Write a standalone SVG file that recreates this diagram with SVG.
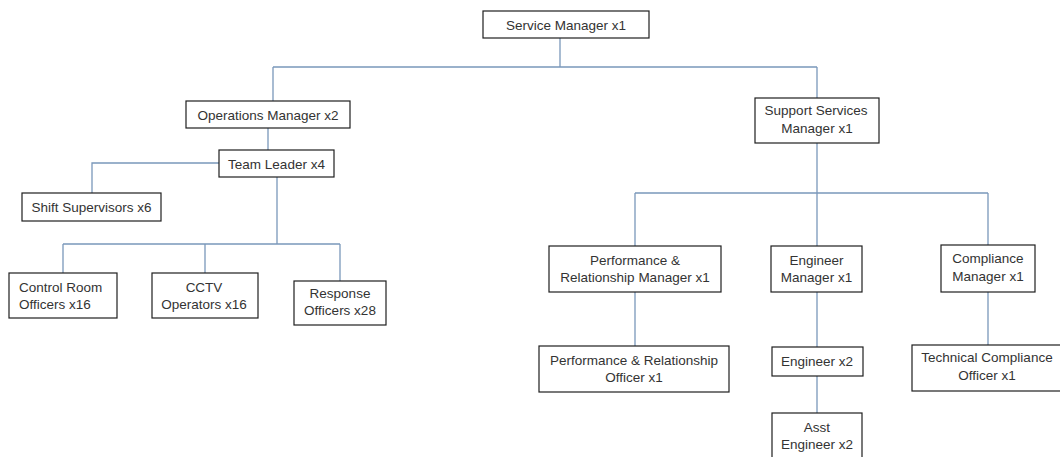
<svg xmlns="http://www.w3.org/2000/svg" width="1060" height="457" viewBox="0 0 1060 457">
<style>
.box{fill:#fff;stroke:#1e1e1e;stroke-width:1.2}
.t{font-family:"Liberation Sans",Arial,sans-serif;font-size:13.5px;fill:#333;text-anchor:middle}
.l{text-anchor:start}
.c{fill:none;stroke:#7a98ba;stroke-width:1.3}
</style>
<rect width="1060" height="457" fill="#fff"/>
<g id="connectors">
<path class="c" d="M560,38V67M273,67H817M273,67V101M817,67V98"/>
<path class="c" d="M268,128V150M219,163H92V193M277,177V244M63,244H340M63,244V273M205,244V273M340,244V281"/>
<path class="c" d="M817,143V193M635,193H988M635,193V246M817,193V246M988,193V245"/>
<path class="c" d="M635,292V346M817,292V347M817,376V413M988,292V345"/>
</g>
<g id="service-manager"><rect class="box" x="483" y="11" width="166" height="27"/><text class="t" x="566" y="30">Service Manager x1</text></g>
<g id="operations-manager"><rect class="box" x="186" y="101" width="164" height="27"/><text class="t" x="268" y="120">Operations Manager x2</text></g>
<g id="team-leader"><rect class="box" x="219" y="150" width="115" height="27"/><text class="t" x="276.5" y="169">Team Leader x4</text></g>
<g id="shift-supervisors"><rect class="box" x="22" y="193" width="139" height="28"/><text class="t" x="91.5" y="212">Shift Supervisors x6</text></g>
<g id="control-room"><rect class="box" x="9" y="273" width="108" height="45"/><text class="t l" x="19" y="292">Control Room</text><text class="t l" x="19" y="309">Officers x16</text></g>
<g id="cctv"><rect class="box" x="152" y="273" width="106" height="45"/><text class="t" x="204" y="292">CCTV</text><text class="t" x="204" y="309">Operators x16</text></g>
<g id="response"><rect class="box" x="294" y="281" width="92" height="44"/><text class="t" x="340" y="298">Response</text><text class="t" x="340" y="315">Officers x28</text></g>
<g id="support-services"><rect class="box" x="755" y="98" width="124" height="45"/><text class="t" x="816" y="115">Support Services</text><text class="t" x="817" y="133">Manager x1</text></g>
<g id="perf-manager"><rect class="box" x="549" y="246" width="172" height="46"/><text class="t" x="635" y="265">Performance &amp;</text><text class="t" x="635" y="282">Relationship Manager x1</text></g>
<g id="engineer-manager"><rect class="box" x="771" y="246" width="91" height="46"/><text class="t" x="816.5" y="265">Engineer</text><text class="t" x="816.5" y="282">Manager x1</text></g>
<g id="compliance-manager"><rect class="box" x="941" y="245" width="94" height="47"/><text class="t" x="988" y="263">Compliance</text><text class="t" x="988" y="281">Manager x1</text></g>
<g id="perf-officer"><rect class="box" x="539" y="346" width="190" height="46"/><text class="t" x="634" y="365">Performance &amp; Relationship</text><text class="t" x="634" y="382">Officer x1</text></g>
<g id="engineer"><rect class="box" x="772" y="347" width="91" height="29"/><text class="t" x="817" y="366">Engineer x2</text></g>
<g id="asst-engineer"><rect class="box" x="772" y="413" width="90" height="50"/><text class="t" x="817" y="432">Asst</text><text class="t" x="817" y="449">Engineer x2</text></g>
<g id="tech-compliance"><rect class="box" x="912" y="345" width="152" height="46"/><text class="t" x="987" y="362">Technical Compliance</text><text class="t" x="987" y="380">Officer x1</text></g>
</svg>
